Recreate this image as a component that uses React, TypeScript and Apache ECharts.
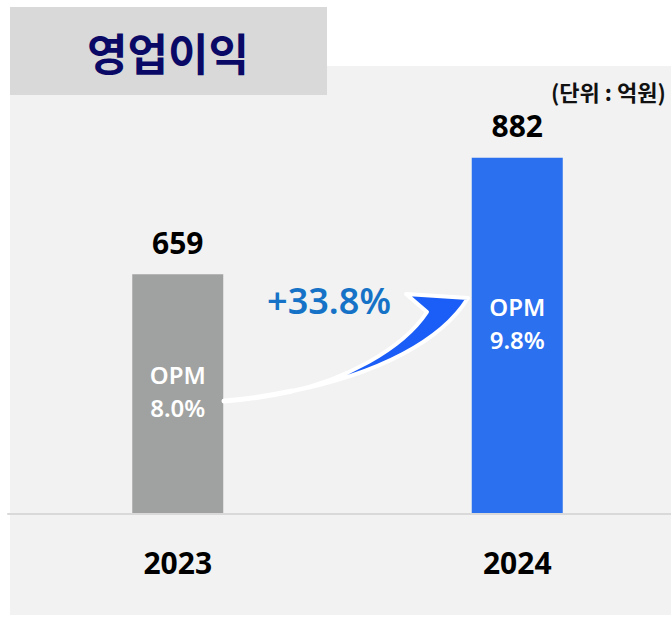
import React, { useEffect, useRef } from 'react';
import * as echarts from 'echarts';

const years = ['2023', '2024'];
const operatingProfit = [659, 882];
const opm = ['8.0%', '9.8%'];
const growthLabel = '+33.8%';
const titleText = '영업이익';
const unitLabel = '(단위 : 억원)';
const barColors = ['#a0a2a1', '#2b70ef'];
const opmOffsets = [-3, -13];

const NUM_FONT = '"Noto Sans", "Open Sans", sans-serif';
const KR_FONT = '"Noto Sans CJK KR", "Noto Sans", sans-serif';

const CHART_W = 700;
const CHART_H = 618;

export default function App() {
  const ref = useRef<HTMLDivElement>(null);
  useEffect(() => {
    const arrowD =
      'M 288 392 C 342 381 402 350 427 312 L 406 294 L 468 298 C 442 340 380 374 288 392 Z';
    try {
      echarts.graphic.registerShape('growthArrow', echarts.graphic.extendPath(arrowD, {}) as any);
    } catch (e) {}
    const chart = echarts.init(ref.current!, null, { renderer: 'svg' });
    chart.setOption({
      animation: false,
      backgroundColor: '#ffffff',
      grid: { left: 8, right: CHART_W - 8 - 679, top: 96, bottom: 104 },
      xAxis: {
        type: 'category',
        data: years,
        axisLine: { show: true, lineStyle: { color: '#d9d9d9', width: 2 } },
        axisTick: { show: false },
        axisLabel: {
          margin: 33,
          fontSize: 30,
          fontWeight: 'bold',
          color: '#000000',
          fontFamily: NUM_FONT,
        },
        z: 3,
      },
      yAxis: { type: 'value', min: 200, max: 1000, show: false, splitLine: { show: false } },
      series: [
        {
          type: 'bar',
          barWidth: 91,
          data: operatingProfit.map((v, i) => ({ value: v, itemStyle: { color: barColors[i] } })),
          label: {
            show: true,
            position: 'top',
            distance: 17,
            fontSize: 30,
            lineHeight: 30,
            fontWeight: 'bold',
            color: '#000000',
            fontFamily: NUM_FONT,
          },
          z: 2,
        },
        {
          type: 'bar',
          barWidth: 91,
          barGap: '-100%',
          silent: true,
          itemStyle: { color: 'rgba(0,0,0,0)' },
          data: operatingProfit.map((v, i) => ({
            value: v,
            label: { offset: [0, opmOffsets[i]] },
          })),
          label: {
            show: true,
            position: 'inside',
            formatter: (p: any) => 'OPM\n' + opm[p.dataIndex],
            fontSize: 24,
            lineHeight: 33,
            fontWeight: 600,
            color: '#ffffff',
            fontFamily: NUM_FONT,
          },
          z: 4,
        },
      ],
      graphic: [
        {
          type: 'rect',
          z: -5,
          shape: { x: 10, y: 66, width: 700, height: 549 },
          style: { fill: '#f2f2f2' },
        },
        {
          type: 'rect',
          z: -4,
          shape: { x: 10, y: 7, width: 317, height: 88 },
          style: { fill: '#d9d9d9' },
        },
        {
          type: 'text',
          z: 10,
          x: 168,
          y: 52,
          style: {
            text: titleText,
            fill: '#0a0a66',
            font: 'bold 44px ' + KR_FONT,
            align: 'center',
            verticalAlign: 'middle',
          },
        },
        {
          type: 'text',
          z: 10,
          x: 551,
          y: 91,
          style: {
            text: unitLabel,
            fill: '#111111',
            font: 'bold 22px ' + KR_FONT,
            align: 'left',
            verticalAlign: 'middle',
          },
        },
        {
          type: 'bezierCurve',
          z: 20,
          shape: { x1: 224, y1: 401, x2: 292, y2: 391, cpx1: 255, cpy1: 399 },
          style: { stroke: '#ffffff', lineWidth: 5, lineCap: 'round', fill: null },
        },
        {
          type: 'growthArrow',
          z: 21,
          x: 0,
          y: 0,
          style: { fill: '#1b5ef7', stroke: '#ffffff', lineWidth: 4, lineJoin: 'round' },
        },
        {
          type: 'text',
          z: 22,
          x: 329,
          y: 300,
          style: {
            text: growthLabel,
            fill: '#1572c6',
            font: '600 36px ' + NUM_FONT,
            align: 'center',
            verticalAlign: 'middle',
          },
        },
      ],
    });
    return () => chart.dispose();
  }, []);
  return (
    <div
      style={{
        position: 'fixed',
        left: 0,
        top: 0,
        width: 671,
        height: CHART_H,
        overflow: 'hidden',
        background: '#ffffff',
      }}
    >
      <div ref={ref} style={{ width: CHART_W, height: CHART_H }} />
    </div>
  );
}
